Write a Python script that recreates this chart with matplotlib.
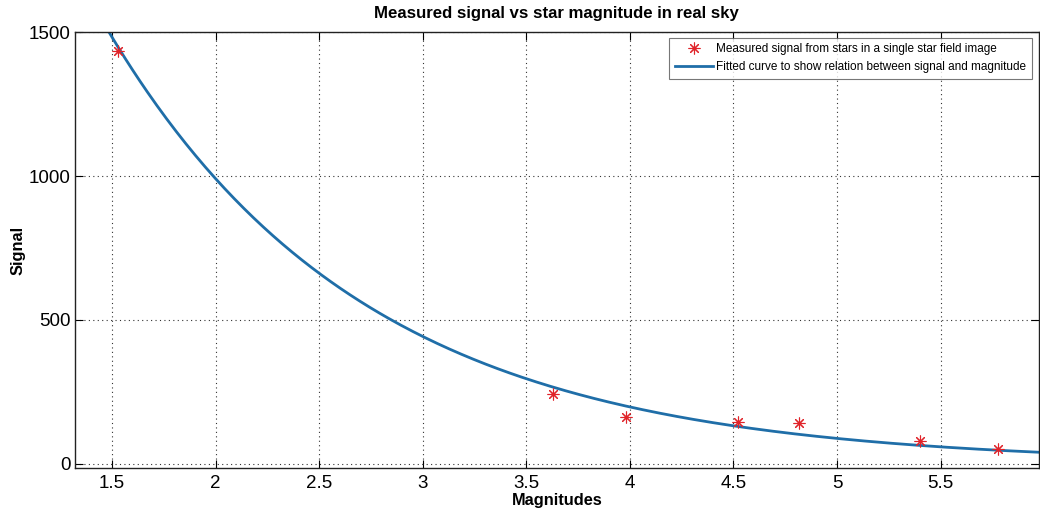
import numpy as np
import matplotlib
matplotlib.use("Agg")
import matplotlib.pyplot as plt

# Measured star signals (magnitude, signal)
magnitudes = [1.530, 3.629, 3.980, 4.521, 4.819, 5.400, 5.779]
signals = [1434, 244, 164, 145, 142, 79, 50]

# Exponential fit  signal = fit_a * exp(-fit_b * magnitude)
fit_a = 4970.0
fit_b = 0.806

x_ticks = [1.5, 2, 2.5, 3, 3.5, 4, 4.5, 5, 5.5]
x_tick_labels = ["1.5", "2", "2.5", "3", "3.5", "4", "4.5", "5", "5.5"]
y_ticks = [0, 500, 1000, 1500]
y_tick_labels = ["0", "500", "1000", "1500"]

plt.rcParams["font.family"] = ["Liberation Sans", "DejaVu Sans"]

fig = plt.figure(figsize=(10.4, 5.17), dpi=100)
ax = fig.add_axes([0.0718, 0.0945, 0.9272, 0.843])

xlo, xhi = 1.32, 5.975
x_fit = np.linspace(xlo, xhi, 400)
y_fit = fit_a * np.exp(-fit_b * x_fit)

ax.plot(magnitudes, signals, linestyle="none", marker=(8, 2, 0), markersize=8.5,
        markeredgewidth=0.8, color="#e0242a", zorder=3,
        label="Measured signal from stars in a single star field image")
ax.plot(x_fit, y_fit, color="#1f6ea8", linewidth=2.0, zorder=2,
        label="Fitted curve to show relation between signal and magnitude")

ax.set_xlim(xlo, xhi)
ax.set_ylim(-15, 1500)
ax.set_xticks(x_ticks)
ax.set_xticklabels(x_tick_labels)
ax.set_yticks(y_ticks)
ax.set_yticklabels(y_tick_labels)

ax.grid(True, linestyle=(0, (1, 3)), color="#333333", linewidth=0.8)
ax.tick_params(direction="in", length=6, width=0.8, labelsize=13.5,
               top=True, right=True)
ax.tick_params(axis="y", pad=3)
ax.tick_params(axis="x", pad=5)
for s in ax.spines.values():
    s.set_linewidth(1.0)
    s.set_color("#222222")

ax.set_title("Measured signal vs star magnitude in real sky",
             fontsize=12.1, fontweight="bold", pad=10)
ax.set_xlabel("Magnitudes", fontsize=11.8, fontweight="bold", labelpad=1)
ax.set_ylabel("Signal", fontsize=11.8, fontweight="bold", labelpad=2)

leg = ax.legend(loc="upper right", bbox_to_anchor=(0.993, 0.988), fontsize=8.5,
                frameon=True, fancybox=False, borderpad=0.5,
                handlelength=3.2, handletextpad=0.3, labelspacing=0.45,
                borderaxespad=0)
leg.get_frame().set_edgecolor("#555555")
leg.get_frame().set_linewidth(0.8)

fig.savefig("out.png", dpi=100)
